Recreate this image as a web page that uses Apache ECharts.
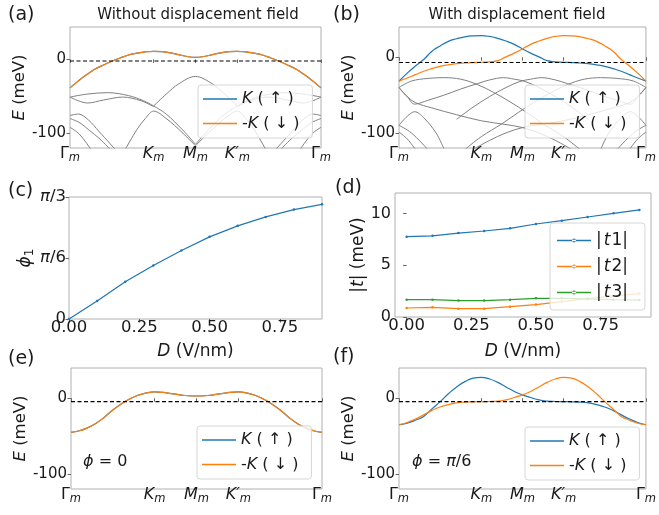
<!DOCTYPE html>
<html><head><meta charset="utf-8">
<script src="https://cdn.jsdelivr.net/npm/echarts@6/dist/echarts.min.js"></script>
<style>html,body{margin:0;padding:0;background:#fff}#c{width:659px;height:515px}</style>
</head><body><div id="c"></div>
<script>
const FONT = 'DejaVu Sans';
// ---------- band-structure path ----------
const pathX = [0,0.1,0.2,0.3,0.4,0.5,0.6,0.7,0.8,0.9,1.0,1.1,1.2,1.3,1.4,1.5,1.6,1.7,1.8,1.9,2.0,2.1,2.2,2.3,2.4,2.5,2.6,2.7,2.8,2.9,3.0];
const kTickValues = [0,1,1.5,2,3];
const kTickLabels = ['{g|Γ}{s|m}','{k|K}{s|m}','{k|M}{s|m}','{k|K′}{s|m}','{g|Γ}{s|m}'];
// (a) without displacement field
const aK  = [-38.5,-29,-20.5,-13,-7.5,-2.5,2,6,8.5,10.3,11,10.5,9,6.5,4,3,4,6.5,9,10.5,11,10.3,8.5,6,2,-2.5,-7.5,-13,-20.5,-29,-38.5];
const aKm = [-38.5,-29,-20.5,-13,-7.5,-2.5,2,6,8.5,10.3,11,10.5,9,6.5,4,3,4,6.5,9,10.5,11,10.3,8.5,6,2,-2.5,-7.5,-13,-20.5,-29,-38.5];
const aFermi = -2;
const aRemote = [
 [[0,-51],[0.2,-47],[0.45,-45],[0.7,-49],[0.88,-56],[1.0,-63]],
 [[0,-51],[0.1,-56],[0.21,-59],[0.4,-55],[0.63,-51],[0.85,-56],[1.0,-64]],
 [[1.0,-63],[1.15,-47],[1.3,-33],[1.5,-23],[1.7,-33],[1.85,-47],[2.0,-63]],
 [[1.0,-63],[1.15,-74],[1.35,-96],[1.5,-115]],
 [[0.66,-122],[0.8,-95],[0.9,-80],[1.0,-70],[1.15,-80],[1.35,-100],[1.5,-117]],
 [[1.5,-115],[1.65,-96],[1.85,-74],[2.0,-63]],
 [[1.5,-117],[1.65,-100],[1.85,-80],[2.0,-70],[2.1,-80],[2.2,-95],[2.34,-122]],
 [[2.0,-63],[2.12,-56],[2.3,-49],[2.55,-45],[2.8,-47],[3,-51]],
 [[2.0,-64],[2.15,-56],[2.37,-51],[2.6,-55],[2.79,-59],[2.9,-56],[3,-51]],
 [[0,-76],[0.1,-74],[0.22,-82],[0.35,-98],[0.55,-123]],
 [[0,-80],[0.12,-86],[0.23,-96],[0.36,-108],[0.49,-123]],
 [[0,-92],[0.11,-101],[0.25,-122]],
 [[3,-76],[2.9,-74],[2.78,-82],[2.65,-98],[2.45,-123]],
 [[3,-80],[2.88,-86],[2.77,-96],[2.64,-108],[2.51,-123]],
 [[3,-92],[2.89,-101],[2.75,-122]]
];
// (b) with displacement field
const bK  = [-31.5,-21,-11.5,-3,8,15,21,24.5,27,28.2,28.5,27.5,25,21.5,17,11,5.5,0.5,-4.5,-6,-6.6,-7,-7.6,-8.5,-10,-12,-15,-18.5,-23,-27.5,-31.5];
const bKm = [-31.5,-27.5,-23,-18.5,-15,-12,-10,-8.5,-7.6,-7,-6.6,-6,-4.5,0.5,5.5,11,17,21.5,25,27.5,28.5,28.2,27,24.5,21,15,8,-3,-11.5,-21,-31.5];
const bFermi = -7;
const bRemote = [
 [[0,-40],[0.15,-31.5],[0.35,-28],[0.55,-27],[0.75,-29],[0.95,-36],[1.15,-46.5],[1.35,-59],[1.55,-73],[1.75,-88],[2.0,-105],[2.2,-122]],
 [[3,-40],[2.85,-31.5],[2.65,-28],[2.45,-27],[2.25,-29],[2.05,-36],[1.85,-46.5],[1.65,-59],[1.45,-73],[1.25,-88],[1.0,-105],[0.8,-122]],
 [[0,-40],[0.1,-52],[0.19,-62],[0.35,-57],[0.55,-50],[0.75,-42],[0.95,-35],[1.1,-30],[1.27,-27],[1.4,-29],[1.53,-32],[1.7,-40],[1.9,-52],[2.1,-66],[2.3,-82]],
 [[3,-40],[2.9,-52],[2.81,-62],[2.65,-57],[2.45,-50],[2.25,-42],[2.05,-35],[1.9,-30],[1.73,-27],[1.6,-29],[1.47,-32],[1.3,-40],[1.1,-52],[0.9,-66],[0.7,-82]],
 [[0,-40],[0.08,-50],[0.2,-60],[0.4,-67],[0.7,-76],[1.0,-84],[1.3,-89],[1.5,-93],[1.7,-100],[1.9,-110],[2.1,-122]],
 [[3,-40],[2.92,-50],[2.8,-60],[2.6,-67],[2.3,-76],[2.0,-84],[1.7,-89],[1.5,-93],[1.3,-100],[1.1,-110],[0.9,-122]],
 [[0,-90],[0.1,-78],[0.19,-72],[0.3,-80],[0.45,-100],[0.55,-122]],
 [[3,-90],[2.9,-78],[2.81,-72],[2.7,-80],[2.55,-100],[2.45,-122]],
 [[0,-90],[0.15,-100],[0.35,-122]],
 [[3,-90],[2.85,-100],[2.65,-122]],
 [[0,-99],[0.1,-108],[0.2,-122]],
 [[3,-99],[2.9,-108],[2.8,-122]]
];
// (e) phi = 0 ; (f) phi = pi/6
const eK  = [-45,-43,-39,-33,-25,-15.5,-7.5,-1,4,7,8.3,7.8,6,4.5,3.3,3,3.3,4.5,6,7.8,8.3,7,4,-1,-7.5,-15.5,-25,-33,-39,-43,-45];
const eKm = [-45,-43,-39,-33,-25,-15.5,-7.5,-1,4,7,8.3,7.8,6,4.5,3.3,3,3.3,4.5,6,7.8,8.3,7,4,-1,-7.5,-15.5,-25,-33,-39,-43,-45];
const eFermi = -4.5;
const fK  = [-35,-33,-29,-24,-14,-4.5,6,15,22,26.5,27.6,25.5,21,15,9,4.5,1,-2.2,-3.8,-4.3,-4.5,-4.7,-5,-6,-8.5,-11.5,-16,-22,-27.5,-32,-35];
const fKm = [-35,-32,-27.5,-22,-16,-11.5,-8.5,-6,-5,-4.7,-4.5,-4.3,-3.8,-2.2,1,4.5,9,15,21,25.5,27.6,26.5,22,15,6,-4.5,-14,-24,-29,-33,-35];
const fFermi = -4.5;
const eTicks = [-100,0];
// (c) (d) vs displacement field
const dField = [0,0.1,0.2,0.3,0.4,0.5,0.6,0.7,0.8,0.9];
const phi1Deg = [0,8.8,18.3,26.3,33.7,40.4,45.8,50.2,53.8,56.4];
const phiTicks = [0,30,60];
const phiTickLabels = ['0','{i|π}/6','{i|π}/3'];
const t1 = [7.77,7.86,8.12,8.32,8.58,9.0,9.32,9.68,10.03,10.36];
const t2 = [0.87,0.94,0.81,0.81,1.0,1.2,1.49,1.78,2.04,2.27];
const t3 = [1.68,1.68,1.59,1.59,1.68,1.81,1.81,1.75,1.68,1.65];
const dTicks = [0,0.25,0.5,0.75];
const tTicks = [0,5,10];

const BLUE='#1f77b4', ORANGE='#ff7f0e', GREEN='#2ca02c', GRAY='#808080';
const SPINE='#b0b0b0', TICK='#666', TXT='#1a1a1a';

const richSub = {
  g:{fontSize:16,fontFamily:FONT,color:TXT,lineHeight:20,verticalAlign:'middle'},
  k:{fontSize:16,fontFamily:FONT,color:TXT,fontStyle:'italic',lineHeight:20,verticalAlign:'middle'},
  s:{fontSize:11.5,fontFamily:FONT,color:TXT,fontStyle:'italic',lineHeight:20,verticalAlign:'bottom'}
};
const itStyle = (sz)=>({fontSize:sz,fontFamily:FONT,color:TXT,fontStyle:'italic'});
const grids = [
  {left:70, top:27, width:251, height:121},
  {left:399, top:27, width:250, height:121},
  {left:69, top:197, width:253, height:122},
  {left:395, top:193, width:256, height:124},
  {left:71, top:368, width:251, height:121},
  {left:399, top:368, width:250, height:121}
].map(g => Object.assign({show:true, borderColor:SPINE, borderWidth:1, backgroundColor:'transparent'}, g));

function tickCfg(vals){ return {show:true, customValues:vals, length:3.5, inside:false, lineStyle:{color:TICK,width:1}}; }
function bandX(gi){
  return {gridIndex:gi, type:'value', min:0, max:3, axisLine:{show:false}, splitLine:{show:false},
    axisTick:tickCfg(kTickValues),
    axisLabel:{customValues:kTickValues, margin:-4, formatter:(v)=>kTickLabels[kTickValues.indexOf(v)], rich:richSub}};
}
function bandY(gi, max){
  return {gridIndex:gi, type:'value', min:-120, max:max, axisLine:{show:false}, splitLine:{show:false},
    axisTick:tickCfg(eTicks),
    axisLabel:{customValues:eTicks, margin:4, fontSize:15, fontFamily:FONT, color:TXT, formatter:(v)=> v===0?'0':'-100'},
    name:'{i|E} (meV)', nameLocation:'middle', nameRotate:90, nameGap:41,
    nameTextStyle:{fontSize:16.5, fontFamily:FONT, color:TXT, rich:{i:itStyle(16.5)}}};
}
const xAxes = [
  bandX(0), bandX(1),
  {gridIndex:2, type:'value', min:0, max:0.9, axisLine:{show:false}, splitLine:{show:false},
   axisTick:tickCfg(dTicks), axisLabel:{customValues:dTicks, margin:0, fontSize:16.5, fontFamily:FONT, color:TXT, formatter:(v)=>v.toFixed(2)},
   name:'{i|D} (V/nm)', nameLocation:'middle', nameGap:24,
   nameTextStyle:{fontSize:17,fontFamily:FONT,color:TXT,rich:{i:itStyle(17)}}},
  {gridIndex:3, type:'value', min:-0.045, max:0.945, axisLine:{show:false}, splitLine:{show:false},
   axisTick:tickCfg(dTicks), axisLabel:{customValues:dTicks, margin:0, fontSize:16.5, fontFamily:FONT, color:TXT, formatter:(v)=>v.toFixed(2)},
   name:'{i|D} (V/nm)', nameLocation:'middle', nameGap:26,
   nameTextStyle:{fontSize:17,fontFamily:FONT,color:TXT,rich:{i:itStyle(17)}}},
  bandX(4), bandX(5)
];
const yAxes = [
  bandY(0,44), bandY(1,40),
  {gridIndex:2, type:'value', min:0, max:60, axisLine:{show:false}, splitLine:{show:false},
   axisTick:tickCfg(phiTicks), axisLabel:{customValues:phiTicks, margin:3, fontSize:16.5, fontFamily:FONT, color:TXT,
     formatter:(v)=>phiTickLabels[phiTicks.indexOf(v)], rich:{i:itStyle(16.5)}},
   name:'{i|ϕ}{s|1}', nameLocation:'middle', nameRotate:90, nameGap:30,
   nameTextStyle:{fontSize:17,fontFamily:FONT,color:TXT,rich:{i:{fontSize:17,fontFamily:FONT,color:TXT,fontStyle:'italic',lineHeight:22,verticalAlign:'middle'},s:{fontSize:12,fontFamily:FONT,color:TXT,lineHeight:22,verticalAlign:'bottom'}}}},
  {gridIndex:3, type:'value', min:0, max:12, axisLine:{show:false}, splitLine:{show:false},
   axisTick:tickCfg(tTicks), axisLabel:{customValues:tTicks, margin:4, fontSize:16, fontFamily:FONT, color:TXT},
   name:'|{i|t}| (meV)', nameLocation:'middle', nameRotate:90, nameGap:27,
   nameTextStyle:{fontSize:17,fontFamily:FONT,color:TXT,rich:{i:itStyle(17)}}},
  bandY(4,40), bandY(5,40)
];

const series = [];
function pts(arr){ return pathX.map((x,i)=>[x,arr[i]]); }
function addBandPanel(gi, remote, kArr, kmArr, fermi){
  remote.forEach(seg => series.push({type:'line', xAxisIndex:gi, yAxisIndex:gi, data:seg, showSymbol:false, smooth:0.35,
    silent:true, lineStyle:{color:GRAY, width:1}, itemStyle:{color:GRAY}, z:2}));
  series.push({name:'K', type:'line', xAxisIndex:gi, yAxisIndex:gi, data:pts(kArr), showSymbol:false, smooth:true,
    lineStyle:{color:BLUE,width:1.2}, itemStyle:{color:BLUE}, z:3});
  series.push({name:'-K', type:'line', xAxisIndex:gi, yAxisIndex:gi, data:pts(kmArr), showSymbol:false, smooth:true,
    lineStyle:{color:ORANGE,width:1.2}, itemStyle:{color:ORANGE}, z:3});
  series.push({type:'line', xAxisIndex:gi, yAxisIndex:gi, data:[[0,fermi],[3,fermi]], showSymbol:false, silent:true,
    lineStyle:{color:'#000', width:1.1, type:[4,2.5]}, z:4});
}
addBandPanel(0, aRemote, aK, aKm, aFermi);
addBandPanel(1, bRemote, bK, bKm, bFermi);
addBandPanel(4, [], eK, eKm, eFermi);
addBandPanel(5, [], fK, fKm, fFermi);
series.push({name:'phi1', type:'line', xAxisIndex:2, yAxisIndex:2, data:dField.map((d,i)=>[d,phi1Deg[i]]),
  symbol:'circle', symbolSize:2.5, lineStyle:{color:BLUE,width:1.2}, itemStyle:{color:BLUE}, clip:false});
[['t1',t1,BLUE],['t2',t2,ORANGE],['t3',t3,GREEN]].forEach(([n,arr,c])=>{
  series.push({name:n, type:'line', xAxisIndex:3, yAxisIndex:3, data:dField.map((d,i)=>[d,arr[i]]),
    symbol:'circle', symbolSize:2.5, lineStyle:{color:c,width:1.2}, itemStyle:{color:c}});
});

function bandLegend(left, top){
  return {left, top, orient:'vertical', data:['K','-K'], icon:'rect', itemWidth:34, itemHeight:1.5, itemGap:8.5, itemTextGap:13,
    padding:[6,13,6.5,5], backgroundColor:'rgba(255,255,255,0.8)', borderColor:'#d6d6d6', borderWidth:1, borderRadius:3,
    selectedMode:false, z:10,
    textStyle:{fontSize:16, fontFamily:FONT, color:TXT, rich:{i:itStyle(16)}},
    formatter:(n)=> n==='K' ? '{i|K} ( ↑ )' : '-{i|K} ( ↓ )'};
}
const lineDotIcon = 'path://M0,1.3L34,1.3L34,2.7L0,2.7Z M15,2A2,2,0,1,0,19,2A2,2,0,1,0,15,2Z';
const legends = [
  bandLegend(198,85), bandLegend(525,85), bandLegend(197,426), bandLegend(525,427),
  {left:550, top:223, orient:'vertical', data:['t1','t2','t3'], icon:lineDotIcon, itemWidth:34, itemHeight:4, itemGap:9, itemTextGap:5,
   padding:[9,17,9,7], backgroundColor:'rgba(255,255,255,0.8)', borderColor:'#d6d6d6', borderWidth:1, borderRadius:3,
   selectedMode:false, z:10,
   textStyle:{fontSize:17, fontFamily:FONT, color:TXT, rich:{i:{fontSize:17,fontFamily:FONT,color:TXT,fontStyle:'italic',padding:[0,1,0,2]}}},
   formatter:(n)=>'|{i|t}'+n.slice(1)+'|'}
];

function txt(x, y, text, size, align, rich){
  return {type:'text', x, y, z:20, style:{text, fontSize:size, fontFamily:FONT, fill:TXT, align:align||'left', verticalAlign:'middle', rich:rich||{}}};
}
const itRich = {i:{fontSize:16,fontFamily:FONT,fill:TXT,fontStyle:'italic'}};
const graphic = [
  txt(8,15,'(a)',19), txt(333,15,'(b)',19), txt(8,191,'(c)',19), txt(335,188,'(d)',19), txt(8,359,'(e)',19), txt(333,357,'(f)',19),
  txt(198,15,'Without displacement field',15,'center'), txt(517,15,'With displacement field',15,'center'),
  txt(83,462,'{i|ϕ} = 0',16,'left',itRich), txt(412,462,'{i|ϕ} = {i|π}/6',16,'left',itRich)
];

const chart = echarts.init(document.getElementById('c'), null, {renderer:'canvas'});
chart.setOption({animation:false, backgroundColor:'#fff', grid:grids, xAxis:xAxes, yAxis:yAxes, series, legend:legends, graphic});
</script></body></html>
